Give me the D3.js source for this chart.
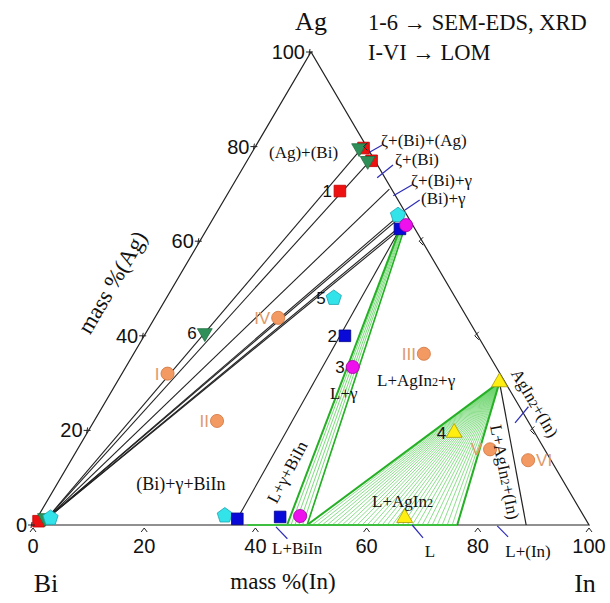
<!DOCTYPE html>
<html>
<head>
<meta charset="utf-8">
<script src="https://cdn.jsdelivr.net/npm/d3@7"></script>
<style>
body { margin: 0; background: #fff; }
</style>
</head>
<body>
<div id="chart"></div>
<script>
// every composition is [mass% Ag, mass% In], Bi is the rest
const axisTicks = [0, 20, 40, 60, 80, 100];
const sideTicks = [20, 40, 60, 80];

const redSquares = [[0.8, 0.6], [79.7, 19.6], [77.0, 22.4], [70.6, 19.9]];
const greenTriangles = [[1.5, 1.4], [79.7, 18.8], [77.0, 21.7], [40.6, 10.6]];
const cyanPentagons = [[1.5, 2.4], [65.5, 32.9], [48.0, 30.1], [2.0, 33.5]];
const blueSquares = [[62.6, 34.7], [40.0, 36.1], [1.3, 36.1], [1.7, 43.6]];
const magentaCircles = [[63.4, 35.4], [33.4, 40.8], [1.9, 47.1]];
const yellowTriangles = [[30.2, 68.8], [19.5, 66.0], [1.5, 66.1]];
const orangeCircles = [[32.0, 8.2], [22.0, 22.1], [36.2, 52.2], [43.8, 22.2], [16.0, 74.2], [13.7, 82.2]];
const orangeNames = ["I", "II", "III", "IV", "V", "VI"];

const sampleNames = ["1", "2", "3", "4", "5", "6"];
const samplePoints = [[70.6, 19.9], [40.0, 36.1], [33.4, 40.8], [19.5, 66.0], [48.0, 30.1], [40.6, 10.6]];

// tie lines of the (Bi) side, all from the Bi-rich corner
const biCorner = [1.3, 1.8];
const biTieEnds = [[79.7, 19.3], [77.0, 22.1], [71.0, 28.6], [65.4, 33.1], [65.0, 33.5], [63.1, 34.5], [62.6, 34.8]];

// L + gamma tie lines: [In of liquid, Ag of gamma, In of gamma]
const lgTies = [[45.7, 62.6, 34.7], [46.4, 62.8, 34.8], [47.1, 62.9, 34.9], [47.8, 63.1, 35.0], [48.5, 63.2, 35.1], [49.3, 63.4, 35.3]];
// L + AgIn2 tie lines, liquid end (In) on the Bi-In side
const agIn2 = [30.2, 68.8];
const laTiesIn = [49.3, 50.2, 51.1, 52.0, 52.9, 53.8, 54.7, 55.6, 56.5, 57.4, 58.3, 59.2, 60.1, 61.0, 61.9,
                  62.8, 63.7, 64.6, 65.5, 66.4, 67.3, 68.2, 69.1, 70.0, 70.9, 71.8, 72.7, 73.6, 74.5, 75.4, 76.3];
const liquidIn3 = 76.3;   // L of L+AgIn2+(In)
const solidIn3 = 88.7;    // (In) of L+AgIn2+(In)
const biInPoint = [1.3, 36.1];

// blue leader lines [[Ag, In], [Ag, In]]
const leaders = [
  [[78.6, 20.9], [80.3, 22.6]],
  [[73.4, 25.2], [76.1, 26.7]],
  [[69.6, 30.0], [71.9, 32.2]],
  [[66.6, 33.6], [68.7, 35.2]],
  [[-0.4, 43.9], [-2.9, 47.2]],
  [[0.0, 68.2], [-2.7, 71.5]],
  [[-0.2, 83.6], [-2.5, 86.7]],
  [[21.6, 75.9], [25.0, 76.6]]
];

const width = 610, height = 603;
const xS = d3.scaleLinear().domain([0, 100]).range([33, 589]);
const yS = d3.scaleLinear().domain([0, 100]).range([525, 52]);
const px = p => xS(p[1] + p[0] / 2);
const py = p => yS(p[0]);

const serif = "'Liberation Serif', 'Times New Roman', serif";
const sans = "'Liberation Sans', Arial, sans-serif";

const svg = d3.select("#chart").append("svg")
  .attr("width", width).attr("height", height)
  .attr("viewBox", [0, 0, width, height]);
svg.append("rect").attr("width", width).attr("height", height).attr("fill", "#fff");

const line = d3.line().x(px).y(py);
const g = svg.append("g");

function seg(a, b, color, w) {
  g.append("path").attr("d", line([a, b])).attr("stroke", color)
    .attr("stroke-width", w).attr("fill", "none");
}

// tie lines from the Bi corner
biTieEnds.forEach(e => seg(biCorner, e, "#222", 1.1));
seg(biInPoint, blueSquares[0], "#222", 1.1);

// L + AgIn2 fan
laTiesIn.forEach(v => seg(agIn2, [0, v], "#6fd66f", 0.8));
seg(agIn2, [0, laTiesIn[0]], "#25b025", 2);
seg(agIn2, [0, liquidIn3], "#25b025", 2);
seg(agIn2, [0, solidIn3], "#222", 1.2);

// L + gamma band
lgTies.forEach(t => seg([0, t[0]], [t[1], t[2]], "#6fd66f", 0.9));
seg([0, lgTies[0][0]], [lgTies[0][1], lgTies[0][2]], "#25b025", 2);
seg([0, lgTies[lgTies.length - 1][0]], [lgTies[lgTies.length - 1][1], lgTies[lgTies.length - 1][2]], "#25b025", 1.6);

// triangle edges
const corners = [[0, 0], [0, 100], [100, 0]];
g.append("path").attr("d", line(corners) + "Z").attr("fill", "none")
  .attr("stroke", "#222").attr("stroke-width", 1.2);
seg([0, 38.5], [0, liquidIn3], "#3fbf3f", 2);

// blue leaders
leaders.forEach(l => seg(l[0], l[1], "#2d2db8", 1.2));

// ticks
const ax = svg.append("g").attr("stroke", "#222").attr("stroke-width", 1).attr("fill", "none");
axisTicks.forEach(t => {
  const x = px([0, t]), y = py([0, t]);
  ax.append("path").attr("d", `M${x - 3},${y + 7}L${x},${y + 3}L${x + 3},${y + 7}`);
  const lx = px([t, 0]), ly = py([t, 0]);
  ax.append("path").attr("d", `M${lx - 5},${ly}L${lx + 2},${ly}M${lx - 1},${ly - 3}L${lx - 2},${ly + 3}`);
});
sideTicks.forEach(t => {
  const x = px([t, 100 - t]), y = py([t, 100 - t]);
  ax.append("path").attr("d", `M${x + 1},${y - 4}L${x - 3},${y}L${x + 1},${y + 4}`);
});

const txt = svg.append("g").attr("fill", "#111");
axisTicks.forEach(t => {
  txt.append("text").attr("x", px([0, t])).attr("y", 553)
    .attr("text-anchor", "middle").attr("font-family", sans).attr("font-size", 20).text(t);
  txt.append("text").attr("x", px([t, 0]) - 6).attr("y", py([t, 0]) + 7)
    .attr("text-anchor", "end").attr("font-family", sans).attr("font-size", 20).text(t);
});

// markers
const sym = (type, size) => d3.symbol().type(type).size(size)();
function pentagon(r) {
  const pts = d3.range(5).map(i => {
    const a = -Math.PI / 2 + i * 2 * Math.PI / 5;
    return [r * Math.cos(a), r * Math.sin(a)];
  });
  return "M" + pts.join("L") + "Z";
}
function markers(data, d, fill, stroke, rot) {
  g.selectAll(null).data(data).join("path")
    .attr("d", d)
    .attr("transform", p => `translate(${px(p)},${py(p)})` + (rot ? ` rotate(${rot})` : ""))
    .attr("fill", fill).attr("stroke", stroke).attr("stroke-width", 0.8);
}
markers(orangeCircles, sym(d3.symbolCircle, 135), "#f39a62", "#d0743c");
markers(redSquares, sym(d3.symbolSquare, 135), "#ee1111", "#c00000");
markers(greenTriangles, sym(d3.symbolTriangle, 95), "#2f8f58", "#1f6f40", 180);
markers(cyanPentagons, pentagon(8), "#33e3ea", "#1aa5b0");
markers(blueSquares, sym(d3.symbolSquare, 135), "#0a0ad8", "#00008a");
markers(magentaCircles, sym(d3.symbolCircle, 135), "#ee11ee", "#a000a0");
markers(yellowTriangles, sym(d3.symbolTriangle, 110), "#ffee10", "#a89a00");

// sample numbers
sampleNames.forEach((s, i) => {
  txt.append("text").attr("x", px(samplePoints[i]) - 8).attr("y", py(samplePoints[i]) + 6)
    .attr("text-anchor", "end").attr("font-family", sans).attr("font-size", 17).text(s);
});
orangeNames.forEach((s, i) => {
  const right = s === "VI";
  txt.append("text").attr("x", px(orangeCircles[i]) + (right ? 8 : -8)).attr("y", py(orangeCircles[i]) + 6)
    .attr("text-anchor", right ? "start" : "end").attr("font-family", sans).attr("font-size", 17)
    .attr("fill", "#de9a6c").text(s);
});

// text with smaller "2"
function rich(x, y, parts, size, opts = {}) {
  const t = txt.append("text").attr("font-family", serif).attr("font-size", size)
    .attr("text-anchor", opts.anchor || "start");
  if (opts.rot !== undefined) t.attr("transform", `translate(${x},${y}) rotate(${opts.rot})`).attr("dy", "0.35em");
  else t.attr("x", x).attr("y", y);
  parts.forEach(p => {
    t.append("tspan").attr("font-size", p[1] ? size * 0.72 : size).text(p[0]);
  });
  return t;
}
const lab = (x, y, s, size, opts) => rich(x, y, [[s]], size, opts);

lab(311, 30, "Ag", 26, {anchor: "middle"});
lab(46, 592, "Bi", 26, {anchor: "middle"});
lab(585, 592, "In", 26, {anchor: "middle"});
lab(283, 589, "mass %(In)", 23, {anchor: "middle"});
lab(112, 282, "mass %(Ag)", 23, {anchor: "middle", rot: -59.6});
lab(368, 30, "1-6 \u2192 SEM-EDS, XRD", 22.5);
lab(368, 60, "I-VI \u2192 LOM", 22.5);

lab(269, 158, "(Ag)+(Bi)", 17);
lab(381, 146, "\u03b6+(Bi)+(Ag)", 17);
lab(395, 165, "\u03b6+(Bi)", 17);
lab(411, 186, "\u03b6+(Bi)+\u03b3", 17);
lab(421, 204, "(Bi)+\u03b3", 17);
lab(330, 399, "L+\u03b3", 17);
rich(377, 386, [["L+AgIn"], ["2", 1], ["+\u03b3"]], 17);
rich(372, 507, [["L+AgIn"], ["2", 1]], 17);
lab(181, 490, "(Bi)+\u03b3+BiIn", 18, {anchor: "middle"});
lab(287, 472, "L+\u03b3+BiIn", 17, {anchor: "middle", rot: -62});
rich(505, 472, [["L+AgIn"], ["2", 1], ["+(In)"]], 17, {anchor: "middle", rot: 79});
rich(535, 403, [["AgIn"], ["2", 1], ["+(In)"]], 17, {anchor: "middle", rot: 59.5});
lab(272, 554, "L+BiIn", 17);
lab(430, 557, "L", 17, {anchor: "middle"});
lab(528, 557, "L+(In)", 17, {anchor: "middle"});
</script>
</body>
</html>
